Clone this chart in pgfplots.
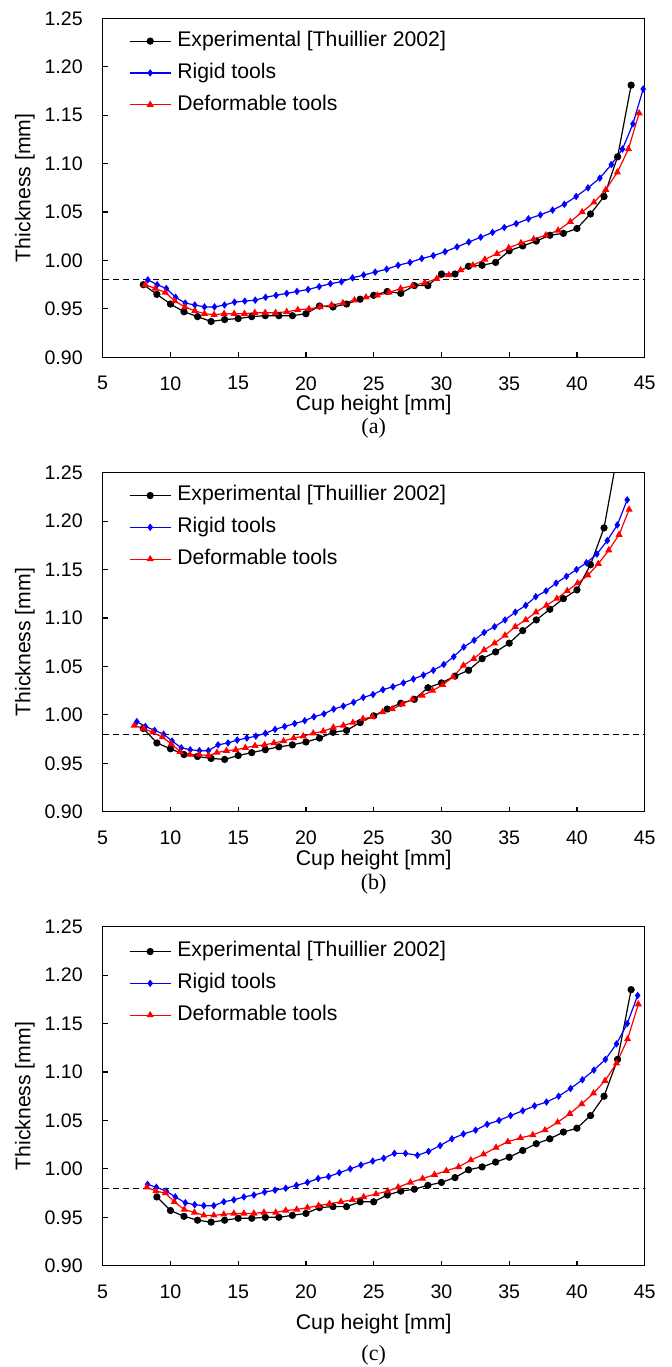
\documentclass[border=0pt]{standalone}
\usepackage{fontspec}
\setmainfont{Liberation Sans}
\newfontfamily\serif{Liberation Serif}
\usepackage{pgfplots}
\usepackage{pgfplotstable}
\pgfplotsset{compat=1.18}

% ---------- panel (a)
\pgfplotstableread{
x y
8 0.975
9 0.965
10 0.955
11 0.947
12 0.942
13 0.937
14 0.939
15 0.940
16 0.942
17 0.943
18 0.943
19 0.943
20 0.945
21 0.953
22 0.952
23 0.955
24 0.960
25 0.964
26 0.968
27 0.966
28 0.974
29 0.974
30 0.986
31 0.986
32 0.994
33 0.995
34 0.998
35 1.010
36 1.015
37 1.020
38 1.026
39 1.028
40 1.033
41 1.048
42 1.066
43 1.107
44 1.181
}\expA
\pgfplotstableread{
x y
8.33 0.980
9.02 0.975
9.70 0.971
10.38 0.962
11.09 0.956
11.80 0.954
12.51 0.952
13.25 0.952
13.99 0.954
14.73 0.957
15.49 0.958
16.26 0.959
17.02 0.962
17.79 0.964
18.58 0.966
19.34 0.968
20.16 0.970
20.98 0.973
21.80 0.976
22.62 0.978
23.44 0.982
24.26 0.985
25.11 0.988
25.96 0.991
26.80 0.995
27.68 0.998
28.55 1.002
29.40 1.005
30.27 1.009
31.15 1.014
32.02 1.019
32.90 1.024
33.77 1.029
34.64 1.034
35.52 1.038
36.42 1.043
37.30 1.047
38.20 1.052
39.07 1.058
39.94 1.066
40.82 1.075
41.69 1.085
42.54 1.099
43.36 1.115
44.13 1.141
44.89 1.177
}\rigA
\pgfplotstableread{
x y
8.14 0.975
8.88 0.971
9.62 0.967
10.33 0.958
11.07 0.952
11.80 0.948
12.51 0.945
13.22 0.944
13.96 0.945
14.70 0.945
15.46 0.945
16.23 0.946
16.99 0.946
17.76 0.946
18.58 0.947
19.40 0.949
20.22 0.950
21.04 0.952
21.89 0.954
22.73 0.956
23.58 0.959
24.43 0.962
25.27 0.964
26.12 0.967
26.99 0.971
27.87 0.974
28.77 0.977
29.64 0.981
30.55 0.985
31.42 0.990
32.32 0.995
33.20 1.001
34.10 1.007
34.97 1.013
35.87 1.018
36.80 1.022
37.70 1.026
38.61 1.031
39.51 1.040
40.38 1.050
41.26 1.060
42.13 1.073
42.98 1.091
43.80 1.115
44.59 1.152
}\defA

% ---------- panel (b)
\pgfplotstableread{
x y
8 0.986
9 0.971
10 0.965
11 0.959
12 0.957
13 0.955
14 0.954
15 0.958
16 0.961
17 0.964
18 0.967
19 0.969
20 0.972
21 0.976
22 0.982
23 0.984
24 0.992
25 0.999
26 1.006
27 1.012
28 1.016
29 1.028
30 1.033
31 1.040
32 1.046
33 1.058
34 1.065
35 1.074
36 1.087
37 1.098
38 1.109
39 1.120
40 1.129
41 1.155
42 1.193
43 1.270
}\expB
\pgfplotstableread{
x y
7.52 0.993
8.15 0.988
8.83 0.984
9.49 0.980
10.12 0.973
10.80 0.966
11.46 0.964
12.14 0.963
12.80 0.963
13.51 0.969
14.25 0.971
14.93 0.974
15.64 0.976
16.30 0.978
17.01 0.981
17.72 0.985
18.43 0.988
19.17 0.991
19.91 0.994
20.59 0.998
21.33 1.001
22.05 1.006
22.76 1.009
23.52 1.013
24.23 1.018
24.95 1.021
25.68 1.026
26.42 1.029
27.19 1.033
27.93 1.037
28.67 1.041
29.40 1.046
30.17 1.052
30.91 1.060
31.65 1.070
32.41 1.077
33.15 1.085
33.92 1.091
34.69 1.098
35.45 1.106
36.22 1.113
36.96 1.122
37.72 1.128
38.46 1.136
39.23 1.143
39.97 1.150
40.70 1.157
41.47 1.166
42.24 1.180
42.98 1.196
43.71 1.222
}\rigB
\pgfplotstableread{
x y
7.33 0.989
8.01 0.986
8.69 0.982
9.40 0.977
10.06 0.970
10.72 0.962
11.43 0.959
12.11 0.959
12.80 0.958
13.43 0.961
14.14 0.963
14.82 0.964
15.53 0.966
16.24 0.968
16.95 0.969
17.64 0.971
18.35 0.973
19.09 0.976
19.80 0.978
20.54 0.981
21.28 0.983
22.02 0.987
22.76 0.989
23.47 0.992
24.21 0.996
24.92 0.998
25.66 1.003
26.37 1.006
27.11 1.011
27.85 1.016
28.58 1.020
29.35 1.025
30.09 1.031
30.85 1.039
31.62 1.051
32.39 1.058
33.15 1.067
33.92 1.074
34.69 1.082
35.45 1.091
36.22 1.098
36.98 1.106
37.75 1.113
38.52 1.120
39.28 1.128
40.05 1.136
40.81 1.144
41.58 1.156
42.35 1.170
43.11 1.186
43.85 1.212
}\defB

% ---------- panel (c)
\pgfplotstableread{
x y
9 0.971
10 0.957
11 0.951
12 0.947
13 0.945
14 0.947
15 0.949
16 0.949
17 0.950
18 0.950
19 0.952
20 0.954
21 0.960
22 0.961
23 0.961
24 0.966
25 0.966
26 0.973
27 0.977
28 0.979
29 0.983
30 0.986
31 0.991
32 0.999
33 1.002
34 1.007
35 1.012
36 1.019
37 1.026
38 1.031
39 1.038
40 1.042
41 1.055
42 1.075
43 1.113
44 1.185
}\expC
\pgfplotstableread{
x y
8.31 0.984
8.96 0.981
9.69 0.977
10.36 0.971
11.10 0.965
11.79 0.963
12.46 0.962
13.20 0.962
13.94 0.966
14.68 0.968
15.42 0.971
16.16 0.973
16.95 0.976
17.72 0.978
18.51 0.980
19.30 0.983
20.11 0.986
20.90 0.990
21.67 0.992
22.46 0.996
23.27 1.000
24.06 1.004
24.93 1.008
25.74 1.011
26.53 1.016
27.35 1.016
28.23 1.014
29.05 1.018
29.90 1.024
30.77 1.031
31.62 1.036
32.52 1.040
33.37 1.046
34.25 1.050
35.10 1.055
36.00 1.060
36.87 1.065
37.75 1.069
38.65 1.075
39.53 1.083
40.40 1.092
41.25 1.102
42.10 1.113
42.92 1.129
43.71 1.150
44.48 1.179
}\rigC
\pgfplotstableread{
x y
8.26 0.981
8.93 0.977
9.62 0.975
10.28 0.966
11.02 0.958
11.77 0.955
12.46 0.952
13.20 0.952
13.94 0.953
14.68 0.954
15.42 0.954
16.16 0.954
16.90 0.955
17.77 0.955
18.51 0.957
19.32 0.958
20.11 0.960
20.93 0.962
21.74 0.964
22.58 0.966
23.44 0.968
24.26 0.971
25.17 0.974
26.04 0.977
26.81 0.981
27.71 0.986
28.61 0.990
29.49 0.994
30.36 0.998
31.27 1.002
32.17 1.009
33.10 1.015
34.03 1.022
34.90 1.028
35.83 1.032
36.74 1.035
37.64 1.040
38.57 1.048
39.47 1.057
40.35 1.067
41.22 1.078
42.07 1.091
42.92 1.109
43.74 1.134
44.53 1.170
}\defC

\pgfplotsset{
  panel/.style={
    width=271pt, height=169.5pt, scale only axis,
    xmin=5, xmax=45, ymin=0.90, ymax=1.25,
    xtick={5,10,15,20,25,30,35,40,45},
    ytick={0.90,0.95,1.00,1.05,1.10,1.15,1.20,1.25},
    y tick label style={/pgf/number format/fixed, /pgf/number format/fixed zerofill, /pgf/number format/precision=2},
    /pgf/number format/assume math mode=true,
    tick align=inside, xtick pos=bottom, ytick pos=left,
    major tick length=2.5pt,
    tick style={black, line width=0.6pt},
    axis line style={line width=0.7pt},
    tick label style={font=\fontsize{9.8}{11}\selectfont},
    yticklabel style={anchor=east, inner sep=0pt, xshift=-9.8pt},
    xticklabel style={anchor=north, inner sep=0pt, yshift=-9.4pt},
    label style={font=\fontsize{10.6}{13}\selectfont},
    xlabel={Cup height [mm]}, ylabel={Thickness [mm]},
    xlabel style={at={(axis description cs:0.5,0)}, anchor=center, yshift=-24pt},
    ylabel style={at={(axis description cs:-0.1435,0.5)}, anchor=center},
    legend cell align=left,
    legend image code/.code={\draw[mark repeat=2,mark phase=2,#1] plot coordinates {(0pt,0pt) (10.25pt,0pt) (20.5pt,0pt)};},
    legend style={draw=none, fill=none, at={(axis description cs:0,1)}, anchor=north west,
      xshift=13pt, yshift=-6.3pt, font=\fontsize{10.6}{12}\selectfont, row sep=6.1pt,
      inner sep=0pt, nodes={inner sep=0pt, text height=7.6pt, text depth=2.2pt},
      /tikz/every odd column/.append style={column sep=3pt}},
  },
  expst/.style={black, line width=0.6pt, mark=*, mark size=1.5pt},
  rigst/.style={blue, line width=0.6pt, mark=diamond*, mark size=1.4pt},
  defst/.style={red, line width=0.6pt, mark=triangle*, mark size=1.5pt},
}

\begin{document}
\begin{tikzpicture}
\begin{axis}[panel, name=a, at={(0pt,0pt)}, anchor=north west]
\addplot[black, line width=0.6pt, dash pattern=on 3pt off 2pt, forget plot] coordinates {(5,0.98) (45,0.98)};
\addplot[expst] table {\expA};
\addplot[rigst] table {\rigA};
\addplot[defst] table {\defA};
\legend{Experimental [Thuillier 2002], Rigid tools, Deformable tools}
\end{axis}
\node[font=\serif\fontsize{11}{13}\selectfont] at ([yshift=-35.5pt]a.south) {(a)};

\begin{axis}[panel, name=b, at={(0pt,-227.2pt)}, anchor=north west]
\addplot[black, line width=0.6pt, dash pattern=on 3pt off 2pt, forget plot] coordinates {(5,0.98) (45,0.98)};
\addplot[expst] table {\expB};
\addplot[rigst] table {\rigB};
\addplot[defst] table {\defB};
\legend{Experimental [Thuillier 2002], Rigid tools, Deformable tools}
\end{axis}
\node[font=\serif\fontsize{11}{13}\selectfont] at ([yshift=-36pt]b.south) {(b)};

\begin{axis}[panel, name=c, at={(0pt,-454.2pt)}, anchor=north west,
  xlabel style={yshift=-5pt}, legend style={yshift=-1pt}]
\addplot[black, line width=0.6pt, dash pattern=on 3pt off 2pt, forget plot] coordinates {(5,0.98) (45,0.98)};
\addplot[expst] table {\expC};
\addplot[rigst] table {\rigC};
\addplot[defst] table {\defC};
\legend{Experimental [Thuillier 2002], Rigid tools, Deformable tools}
\end{axis}
\node[font=\serif\fontsize{11}{13}\selectfont] at ([yshift=-44.5pt]c.south) {(c)};

\pgfresetboundingbox
\path (-51.35pt,9.15pt) rectangle (284.15pt,-674.35pt);
\end{tikzpicture}
\end{document}
